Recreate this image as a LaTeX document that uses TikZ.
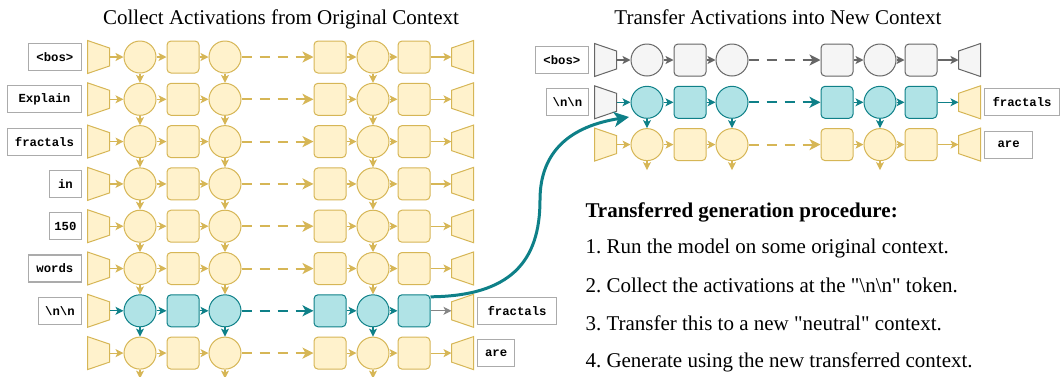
\documentclass[tikz,border=0pt]{standalone}
\usepackage{fontspec}
\setmainfont{Liberation Serif}[Ligatures=TeXOff]
\setmonofont{Liberation Mono}
\usetikzlibrary{arrows.meta}
\frenchspacing

\definecolor{yelfill}{HTML}{FFF2CC}
\definecolor{yeldraw}{HTML}{D6B656}
\definecolor{telfill}{HTML}{B0E3E6}
\definecolor{teldraw}{HTML}{0E8088}
\definecolor{gryfill}{HTML}{F5F5F5}
\definecolor{grydraw}{HTML}{666666}
\definecolor{outgrey}{HTML}{858585}
\definecolor{boxgrey}{HTML}{ABABAB}

\begin{document}
\begin{tikzpicture}[x=1pt,y=-1pt,>={Stealth[length=8pt,width=8pt,inset=2pt]},line width=1pt]
  \tikzstyle{ring}=[circle,draw,minimum size=32pt,inner sep=0pt]
  \tikzstyle{blk}=[rectangle,draw,rounded corners=4pt,minimum size=32pt,inner sep=0pt]
  \tikzstyle{tap}=[minimum width=21pt,minimum height=32pt,inner sep=0pt]
  \tikzstyle{tok}=[draw=boxgrey,fill=white,line width=1.2pt,minimum height=27pt,inner sep=0pt,font=\ttfamily\bfseries\fontsize{12.3}{14}\selectfont]
  \tikzstyle{yel}=[draw=yeldraw,fill=yelfill]
  \tikzstyle{tel}=[draw=teldraw,fill=telfill]
  \tikzstyle{gry}=[draw=grydraw,fill=gryfill]
  \tikzstyle{flow}=[->,line width=1.2pt]
  \tikzstyle{dashlink}=[-{Stealth[length=11pt,width=11pt,inset=3pt]},line width=2pt,dash pattern=on 10pt off 8pt]
  \tikzstyle{transfer}=[-{Stealth[length=15pt,width=15pt,inset=4pt]},line width=3pt,draw=teldraw]
  \tikzstyle{ttl}=[font=\fontsize{21}{25}\selectfont,inner sep=0pt]

  \useasboundingbox (0,0) rectangle (1061,376);

  % original context
  \foreach \r/\bod/\ac/\oc in {1/yel/yeldraw/yeldraw,2/yel/yeldraw/yeldraw,3/yel/yeldraw/yeldraw,4/yel/yeldraw/yeldraw,5/yel/yeldraw/yeldraw,6/yel/yeldraw/yeldraw,7/tel/teldraw/outgrey,8/yel/yeldraw/yeldraw}{
    \pgfmathsetmacro{\y}{57+42.3*(\r-1)}
    \node[tap] (e\r) at (98.5,\y) {};
    \draw[yel] (e\r.north west) -- ([yshift=-7.5pt]e\r.north east) -- ([yshift=7.5pt]e\r.south east) -- (e\r.south west) -- cycle;
    \node[ring,\bod] (a\r) at (140,\y) {};
    \node[blk,\bod] (b\r) at (183,\y) {};
    \node[ring,\bod] (c\r) at (225,\y) {};
    \node[blk,\bod] (d\r) at (330,\y) {};
    \node[ring,\bod] (f\r) at (373,\y) {};
    \node[blk,\bod] (g\r) at (414,\y) {};
    \node[tap] (u\r) at (462.5,\y) {};
    \draw[yel] ([yshift=-7.5pt]u\r.north west) -- (u\r.north east) -- (u\r.south east) -- ([yshift=7.5pt]u\r.south west) -- cycle;
    \draw[flow,\ac] (e\r) -- (a\r);
    \draw[flow,\ac] (a\r) -- (b\r);
    \draw[flow,\ac] (b\r) -- (c\r);
    \draw[dashlink,\ac] (c\r) -- (d\r);
    \draw[flow,\ac] (d\r) -- (f\r);
    \draw[flow,\ac] (f\r) -- (g\r);
    \draw[flow,\oc] (g\r) -- (u\r);
  }
  \foreach \r/\n/\ac in {1/2/yeldraw,2/3/yeldraw,3/4/yeldraw,4/5/yeldraw,5/6/yeldraw,6/7/yeldraw,7/8/teldraw}
    \foreach \k in {a,c,f} \draw[flow,\ac] (\k\r) -- (\k\n);
  \foreach \k in {a,c,f} \draw[flow,yeldraw] (\k8) -- ([yshift=-9pt]\k8.south);

  \foreach \r/\w/\t in {1/53pt/{<bos>},2/74pt/Explain,3/74pt/fractals,4/32pt/in,5/32pt/150,6/53pt/words,7/43pt/{\textbackslash n\textbackslash n}}
    \node[tok,minimum width=\w,anchor=east] (t\r) at (82,{57+42.3*(\r-1)}) {\t};
  \node[tok,minimum width=79pt,anchor=west] (o7) at (477,310.8) {fractals};
  \node[tok,minimum width=37pt,anchor=west] (o8) at (477,353.1) {are};

  % new context
  \begin{scope}[shift={(507,3)}]
  \foreach \r/\emb/\bod/\ac/\out in {1/gry/gry/grydraw/gry,2/gry/tel/teldraw/yel,3/yel/yel/yeldraw/yel}{
    \pgfmathsetmacro{\y}{57+42.3*(\r-1)}
    \node[tap] (ne\r) at (98.5,\y) {};
    \draw[\emb] (ne\r.north west) -- ([yshift=-7.5pt]ne\r.north east) -- ([yshift=7.5pt]ne\r.south east) -- (ne\r.south west) -- cycle;
    \node[ring,\bod] (na\r) at (140,\y) {};
    \node[blk,\bod] (nb\r) at (183,\y) {};
    \node[ring,\bod] (nc\r) at (225,\y) {};
    \node[blk,\bod] (nd\r) at (330,\y) {};
    \node[ring,\bod] (nf\r) at (373,\y) {};
    \node[blk,\bod] (ng\r) at (414,\y) {};
    \node[tap] (nu\r) at (462.5,\y) {};
    \draw[\out] ([yshift=-7.5pt]nu\r.north west) -- (nu\r.north east) -- (nu\r.south east) -- ([yshift=7.5pt]nu\r.south west) -- cycle;
    \draw[flow,\ac] (ne\r) -- (na\r);
    \draw[flow,\ac] (na\r) -- (nb\r);
    \draw[flow,\ac] (nb\r) -- (nc\r);
    \draw[dashlink,\ac] (nc\r) -- (nd\r);
    \draw[flow,\ac] (nd\r) -- (nf\r);
    \draw[flow,\ac] (nf\r) -- (ng\r);
    \draw[flow,\ac] (ng\r) -- (nu\r);
  }
  \foreach \k in {a,c,f} {
    \draw[flow,teldraw] (n\k2) -- (n\k3);
    \draw[flow,yeldraw] (n\k3) -- ([yshift=-9pt]n\k3.south);
  }
  \node[tok,minimum width=53pt,anchor=east] (nt1) at (82,57) {<bos>};
  \node[tok,minimum width=42pt,anchor=east] (nt2) at (82,99.3) {\textbackslash n\textbackslash n};
  \node[tok,minimum width=75pt,anchor=west] (no2) at (477,99.3) {fractals};
  \node[tok,minimum width=48pt,anchor=west] (no3) at (477,141.6) {are};
  \end{scope}

  % transfer of the \n\n activations
  \coordinate (drop) at (629,117);
  \draw[transfer] ([yshift=14pt]g7.east) .. controls (510,296) and (540,262) .. (540,200) .. controls (540,150) and (572,126) .. (drop);

  \node[ttl,anchor=base] (ttlA) at (281,24) {Collect Activations from Original Context};
  \node[ttl,anchor=base] (ttlB) at (778,24) {Transfer Activations into New Context};
  \node[ttl,anchor=base west,font=\fontsize{21}{25}\selectfont\bfseries] (steps) at (585,217) {Transferred generation procedure:};
  \node[ttl,anchor=base west] (s1) at (585,253) {1. Run the model on some original context.};
  \node[ttl,anchor=base west] (s2) at (585,292) {2. Collect the activations at the "\textbackslash n\textbackslash n" token.};
  \node[ttl,anchor=base west] (s3) at (585,330) {3. Transfer this to a new "neutral" context.};
  \node[ttl,anchor=base west] (s4) at (585,367) {4. Generate using the new transferred context.};
\end{tikzpicture}
\end{document}
